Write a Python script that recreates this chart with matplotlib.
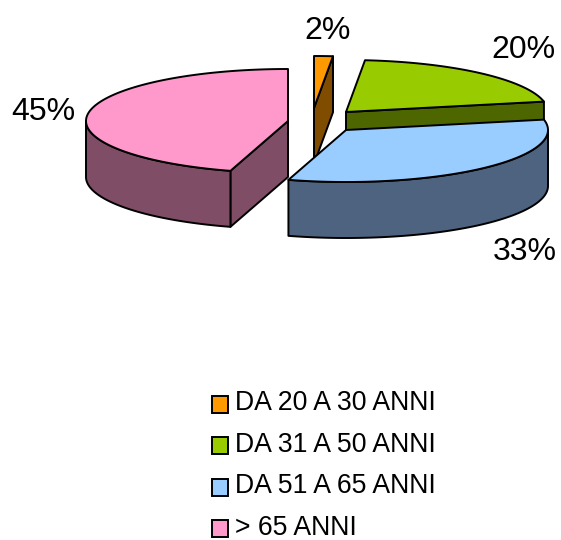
import numpy as np
import matplotlib
matplotlib.use("Agg")
import matplotlib.pyplot as plt
from matplotlib.patches import Polygon, Patch

plt.rcParams['font.family'] = ['Liberation Sans', 'DejaVu Sans']

# data
categories = ["DA 20 A 30 ANNI", "DA 31 A 50 ANNI", "DA 51 A 65 ANNI", "> 65 ANNI"]
values = [1.5, 20.3, 32.8, 45.4]
pct_labels = ["2%", "20%", "33%", "45%"]

# style / layout
top_colors = ["#FF9900", "#99CC00", "#99CCFF", "#FF99CC"]
side_colors = ["#804D00", "#4D6600", "#4D6380", "#804D66"]
centers = [(314, 108), (346, 112), (346, 130), (288, 121)]
label_pos = [(328, 31), (523, 50), (525, 252), (43, 112)]
RX, RY, DEPTH = 202, 52, 56
LW = 1.4
draw_order = [3, 0, 1, 2]

W, H = 561, 540
fig = plt.figure(figsize=(W / 100, H / 100), dpi=100)
ax = fig.add_axes([0, 0, 1, 1])
ax.set_xlim(0, W)
ax.set_ylim(H, 0)
ax.axis("off")


def rim(c, a0, a1, n=120):
    t = np.radians(np.linspace(a0, a1, n))
    return np.column_stack([c[0] + RX * np.sin(t), c[1] - RY * np.cos(t)])


def poly(pts, color):
    ax.add_patch(Polygon(pts, closed=True, facecolor=color, edgecolor="black",
                         linewidth=LW, joinstyle="round"))


edges = np.concatenate([[0], np.cumsum(values)]) / np.sum(values) * 360
for i in draw_order:
    a0, a1 = edges[i], edges[i + 1]
    c = np.array(centers[i], float)
    down = np.array([0, DEPTH])
    # cut faces that look towards the viewer
    for ang, visible in ((a0, np.sin(np.radians(a0)) < -1e-6),
                         (a1, np.sin(np.radians(a1)) > 1e-6)):
        if visible:
            p = rim(c, ang, ang, 1)[0]
            poly([c, p, p + down, c + down], side_colors[i])
    # outer wall, front half only
    w0, w1 = max(a0, 90), min(a1, 270)
    if w1 > w0:
        r = rim(c, w0, w1)
        poly(np.vstack([r, (r + down)[::-1]]), side_colors[i])
    # top surface
    poly(np.vstack([c, rim(c, a0, a1)]), top_colors[i])

for txt, (x, y) in zip(pct_labels, label_pos):
    ax.text(x, y, txt, fontsize=23, ha="center", va="center", color="black")

handles = [Patch(facecolor=col, edgecolor="black", linewidth=LW) for col in top_colors]
leg = ax.legend(handles, categories, loc="upper left", bbox_to_anchor=(212 / W, 1 - 390.5 / H),
                frameon=False, fontsize=19.2, handlelength=0.6, handleheight=0.6,
                handletextpad=0.27, labelspacing=0.58, borderpad=0, borderaxespad=0)
for patch in leg.get_patches():
    patch.set_y(patch.get_y() - 2.2)

fig.savefig("out.png", dpi=100)
